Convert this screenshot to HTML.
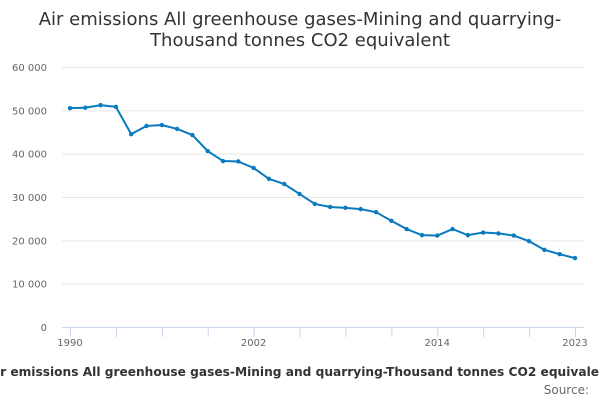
<!DOCTYPE html>
<html><head><meta charset="utf-8"><style>
body{margin:0;background:#fff;font-family:"DejaVu Sans",sans-serif;}
svg{display:block}
</style></head><body>
<svg width="600" height="400" font-family="DejaVu Sans, sans-serif">
<text x="300" y="25" text-anchor="middle" font-size="18" fill="#333"><tspan x="300">Air emissions All greenhouse gases-Mining and quarrying-</tspan><tspan x="300" dy="21">Thousand tonnes CO2 equivalent</tspan></text>
<g id="grid"></g><g id="axes"></g><g id="series"></g>
<text x="300" y="376" text-anchor="middle" font-size="12.2" font-weight="bold" fill="#333">Air emissions All greenhouse gases-Mining and quarrying-Thousand tonnes CO2 equivalent</text>
<text x="589" y="394" text-anchor="end" font-size="12" fill="#666">Source:</text>
</svg>
<script>
const years=[1990,1991,1992,1993,1994,1995,1996,1997,1998,1999,2000,2001,2002,2003,2004,2005,2006,2007,2008,2009,2010,2011,2012,2013,2014,2015,2016,2017,2018,2019,2020,2021,2022,2023];
const values=[50500,50600,51200,50800,44500,46400,46600,45700,44300,40600,38300,38200,36700,34200,33000,30700,28400,27700,27500,27200,26500,24500,22600,21200,21100,22600,21200,21800,21600,21100,19800,17800,16800,15900];
const yTicks=[0,10000,20000,30000,40000,50000,60000];
const yTickLabels=["0","10 000","20 000","30 000","40 000","50 000","60 000"];
const xLabels=[1990,2002,2014,2023];
const NS="http://www.w3.org/2000/svg";
const x=v=>70+(v-1990)*(575-70)/33;
const y=v=>327-v*(327-67)/60000;
function mk(t,a,p){const e=document.createElementNS(NS,t);for(const k in a)e.setAttribute(k,a[k]);p.appendChild(e);return e;}
const g=document.getElementById('grid'),ax=document.getElementById('axes'),s=document.getElementById('series');
yTicks.forEach((v,i)=>{
 const l=mk('line',{x1:62,x2:584,y1:y(v)+0.5,y2:y(v)+0.5,stroke:i==0?'#ccd6eb':'#e6e6e6'},g);
 
 
 const t=mk('text',{x:47,y:y(v)+4,'text-anchor':'end','font-size':10,fill:'#666'},ax);
 t.textContent=yTickLabels[i];
 
 
});
for(let yr=1990;yr<=2023;yr+=3){
 const tk=mk('line',{x1:x(yr)+0.5,x2:x(yr)+0.5,y1:327,y2:337,stroke:'#ccd6eb'},ax);
 
 
}
const tk2=mk('line',{x1:x(2023)+0.5,x2:x(2023)+0.5,y1:327,y2:337,stroke:'#ccd6eb'},ax);


xLabels.forEach(v=>{
 const t=mk('text',{x:x(v),y:346,'text-anchor':'middle','font-size':10,fill:'#666'},ax);
 t.textContent=v;
 
 
});
const path=mk('polyline',{points:years.map((yr,i)=>x(yr)+','+y(values[i])).join(' '),fill:'none',stroke:'#0a7abf','stroke-width':2},s);


years.forEach((yr,i)=>{
 const c=mk('circle',{cx:x(yr),cy:y(values[i]),r:2.2,fill:'#0a7abf'},s);
 
 
});
</script>
</body></html>
